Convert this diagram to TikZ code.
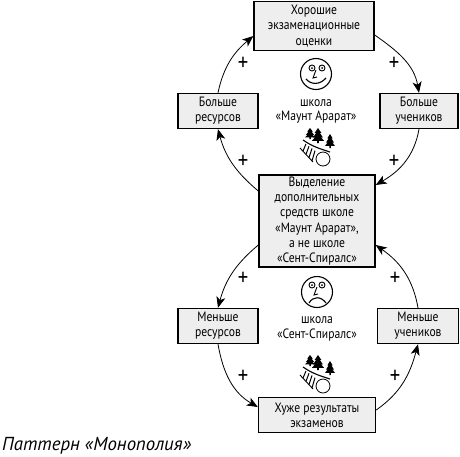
\documentclass[tikz,border=0pt]{standalone}
\usepackage{fontspec}
\setmainfont[FakeStretch=0.86]{PT Sans}
\newfontfamily\titlefont{PT Sans}
\usepackage{xcolor}
\usetikzlibrary{arrows.meta}
\definecolor{mFill}{HTML}{EEEEEE}

\begin{document}
\begin{tikzpicture}[
  x=1pt, y=1pt,
  card/.style={draw=black, fill=mFill, line width=1.4pt, inner sep=0pt, align=center,
               font=\fontsize{13.5}{15.2}\selectfont},
  school/.style={align=center, inner sep=0pt, font=\fontsize{13.5}{14.5}\selectfont},
  plus/.style={inner sep=0pt, font=\fontsize{24}{24}\selectfont},
  link/.style={line width=0.8pt, -{Stealth[length=11pt,width=9pt,inset=3pt]}},
  face/.style={line width=1.1pt},
  scene/.pic={
    % trees
    \foreach \tx/\ty/\tw/\th in {-7/6/10/11, 1/2/12/15, 13/-3/10/14} {
      \fill[black, shift={(\tx,\ty)}, xscale=\tw/2, yscale=\th]
        (0,1) -- (0.55,0.68) -- (0.3,0.68) -- (0.8,0.38) -- (0.5,0.38) -- (1,0.15) -- (0.15,0.15) -- (0.15,0)
        -- (-0.15,0) -- (-0.15,0.15) -- (-1,0.15) -- (-0.5,0.38) -- (-0.8,0.38) -- (-0.3,0.68) -- (-0.55,0.68) -- cycle;
    }
    % slope and ball
    \draw[line width=1.1pt] (-14,5) .. controls (-4,-2) and (4,-4) .. (13,-7);
    \draw[line width=0.8pt, fill=white] (6,-14) circle (7);
    % track
    \draw[line width=0.9pt] (-17,-3) -- (-4,-17);
    \foreach \i in {0,1,2,3}
      \draw[line width=1pt] (-14+3*\i,-6-3.3*\i) -- (-11+3*\i,1-2.2*\i);
  },
]
  \useasboundingbox (0,0) rectangle (460,-456);

  \node[card, minimum width=120, minimum height=49] (hiscore) at (314,-26)
    {Хорошие\\экзаменационные\\оценки};
  \node[card, minimum width=80, minimum height=35] (hires) at (218,-111)
    {Больше\\ресурсов};
  \node[card, minimum width=78, minimum height=35] (hipupil) at (419,-111)
    {Больше\\учеников};
  \node[card, minimum width=116, minimum height=92] (funds) at (317,-221)
    {Выделение\\дополнительных\\средств школе\\«Маунт Арарат»,\\а не школе\\«Сент-Спиралс»};
  \node[card, minimum width=80, minimum height=35] (lores) at (218,-326)
    {Меньше\\ресурсов};
  \node[card, minimum width=81, minimum height=35] (lopupil) at (418,-326)
    {Меньше\\учеников};
  \node[card, minimum width=117, minimum height=35] (loscore) at (317,-415)
    {Хуже результаты\\экзаменов};

  \draw[link] (hires.north) to[out=78, in=220] ([yshift=-10]hiscore.west);
  \draw[link] ([yshift=-9]hiscore.east) to[out=-35, in=100] (hipupil.north);
  \draw[link] (hipupil.south) to[out=-100, in=30] ([yshift=36]funds.east);
  \draw[link] ([yshift=30]funds.west) to[out=140, in=-75] (hires.south);
  \draw[link] ([yshift=-24]funds.west) to[out=220, in=75] (lores.north);
  \draw[link] (lores.south) to[out=-80, in=150] ([yshift=8]loscore.west);
  \draw[link] ([yshift=5]loscore.east) to[out=35, in=255] (lopupil.south);
  \draw[link] (lopupil.north) to[out=100, in=-35] ([yshift=-24]funds.east);

  \node[plus] (p1) at (243,-64) {+};
  \node[plus] (p2) at (394,-64) {+};
  \node[plus] (p3) at (243,-162) {+};
  \node[plus] (p4) at (394,-162) {+};
  \node[plus] (p5) at (243,-279) {+};
  \node[plus] (p6) at (395,-279) {+};
  \node[plus] (p7) at (243,-377) {+};
  \node[plus] (p8) at (395,-377) {+};

  \node[school] (school1) at (316,-111.5) {школа\\«Маунт Арарат»};
  \node[school] (school2) at (317,-329) {школа\\«Сент-Спиралс»};

  % happy face
  \draw[face] (316,-74) circle (15.5);
  \draw[line width=0.9pt] (312,-68) circle (3) (322,-68) circle (3);
  \fill (312,-68) circle (1) (322,-68) circle (1);
  \draw[line width=0.9pt] (316,-70) -- (313,-78) -- (317,-77);
  \draw[face] (306,-79) .. controls (311,-85) and (320,-85) .. (326,-78);
  % sad face
  \draw[face] (317,-292) circle (15.5);
  \draw[line width=0.9pt] (312,-285) circle (3) (322,-285) circle (3);
  \fill (312,-285) circle (1) (322,-285) circle (1);
  \draw[line width=0.9pt] (317,-287) -- (314,-295) -- (318,-294);
  \draw[face] (309,-303) .. controls (313,-296) and (321,-296) .. (326,-303);

  \pic at (317,-145) {scene};
  \pic at (317,-372) {scene};

  \node[anchor=base west, inner sep=0pt, font=\titlefont\fontsize{18.8}{20}\selectfont\itshape] (title) at (2,-450)
    {Паттерн «Монополия»};
\end{tikzpicture}
\end{document}
